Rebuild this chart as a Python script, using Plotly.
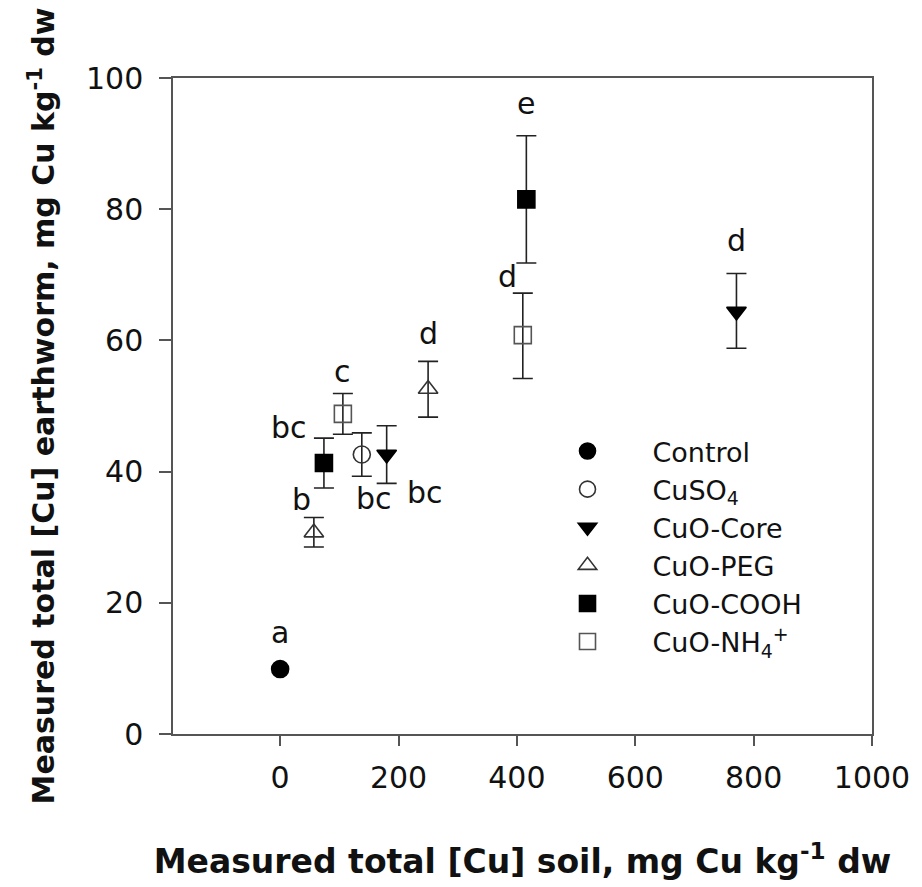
import plotly.graph_objects as go

# ---- data ----
treatments = ["Control", "CuSO<sub>4</sub>", "CuO-Core", "CuO-PEG", "CuO-COOH", "CuO-NH<sub>4</sub><sup>+</sup>"]
soil_cu = {
    "Control": [0],
    "CuSO<sub>4</sub>": [138],
    "CuO-Core": [180, 771],
    "CuO-PEG": [57, 250],
    "CuO-COOH": [74, 416],
    "CuO-NH<sub>4</sub><sup>+</sup>": [106, 410],
}
worm_cu = {
    "Control": [9.9],
    "CuSO<sub>4</sub>": [42.6],
    "CuO-Core": [42.6, 64.4],
    "CuO-PEG": [30.7, 52.6],
    "CuO-COOH": [41.3, 81.5],
    "CuO-NH<sub>4</sub><sup>+</sup>": [48.8, 60.8],
}
err_plus = {
    "Control": [0],
    "CuSO<sub>4</sub>": [3.3],
    "CuO-Core": [4.4, 5.8],
    "CuO-PEG": [2.3, 4.2],
    "CuO-COOH": [3.8, 9.7],
    "CuO-NH<sub>4</sub><sup>+</sup>": [3.1, 6.4],
}
err_minus = {
    "Control": [0],
    "CuSO<sub>4</sub>": [3.3],
    "CuO-Core": [4.4, 5.6],
    "CuO-PEG": [2.2, 4.3],
    "CuO-COOH": [3.8, 9.7],
    "CuO-NH<sub>4</sub><sup>+</sup>": [3.1, 6.6],
}
letters = {
    "Control": ["a"],
    "CuSO<sub>4</sub>": ["bc"],
    "CuO-Core": ["bc", "d"],
    "CuO-PEG": ["b", "d"],
    "CuO-COOH": ["bc", "e"],
    "CuO-NH<sub>4</sub><sup>+</sup>": ["c", "d"],
}
x_ticks = [0, 200, 400, 600, 800, 1000]
y_ticks = [0, 20, 40, 60, 80, 100]

# ---- styles ----
symbols = {
    "Control": ("circle", "black"),
    "CuSO<sub>4</sub>": ("circle-open", "#333"),
    "CuO-Core": ("triangle-down", "black"),
    "CuO-PEG": ("triangle-up-open", "#333"),
    "CuO-COOH": ("square", "black"),
    "CuO-NH<sub>4</sub><sup>+</sup>": ("square-open", "#555"),
}
# label placement: (anchor: 'top' of bar / 'bottom' of bar / 'center'), xshift, yshift px
label_place = {
    "Control": [("center", 0, 37)],
    "CuSO<sub>4</sub>": [("bottom", 12, -22)],
    "CuO-Core": [("bottom", 38, -9), ("top", 0, 33)],
    "CuO-PEG": [("top", -12, 18), ("top", 0, 28)],
    "CuO-COOH": [("top", -35, 11), ("top", 0, 32)],
    "CuO-NH<sub>4</sub><sup>+</sup>": [("top", 0, 22), ("top", -15, 17)],
}

FONT = "DejaVu Sans, Liberation Sans, Arial, sans-serif"
fig = go.Figure()
annotations = []
for t in treatments:
    sym, col = symbols[t]
    has_err = any(v > 0 for v in err_plus[t])
    fig.add_trace(go.Scatter(
        x=soil_cu[t], y=worm_cu[t], mode="markers", name=t,
        marker=dict(symbol=sym, size=17, color=col, line=dict(color=col, width=1.6)),
        error_y=dict(type="data", symmetric=False, array=err_plus[t], arrayminus=err_minus[t],
                     color="#222", thickness=1.6, width=10, visible=has_err),
    ))
    for i, lab in enumerate(letters[t]):
        where, xs, ys = label_place[t][i]
        y = worm_cu[t][i]
        if where == "top":
            y = y + err_plus[t][i]
        elif where == "bottom":
            y = y - err_minus[t][i]
        annotations.append(dict(x=soil_cu[t][i], y=y, text=lab, showarrow=False,
                                xshift=xs, yshift=ys, xanchor="center", yanchor="middle",
                                font=dict(size=30, color="#111", family=FONT)))

fig.update_layout(
    width=922, height=887,
    margin=dict(l=173, r=45, t=78, b=153),
    paper_bgcolor="white", plot_bgcolor="white",
    font=dict(family=FONT, color="#111"),
    annotations=annotations,
    showlegend=True,
    legend=dict(x=0.50, y=0.468, xanchor="left", yanchor="top",
                font=dict(size=27, family=FONT, color="#111"),
                bgcolor="rgba(0,0,0,0)", itemwidth=120, tracegroupgap=0),
    xaxis=dict(range=[-181, 1000], tickvals=x_ticks, ticks="outside", ticklen=10,
               tickwidth=1.5, tickcolor="#555", showline=True, linecolor="#555", linewidth=1.5,
               mirror=True, showgrid=False, zeroline=False, ticklabelstandoff=6,
               tickfont=dict(size=30, family=FONT, color="#111"),
               title=dict(text="<b>Measured total [Cu] soil, mg Cu kg<sup>-1</sup> dw</b>",
                          font=dict(size=33, family=FONT, color="#111"), standoff=56)),
    yaxis=dict(range=[0, 100], tickvals=y_ticks, ticks="outside", ticklen=12,
               tickwidth=1.5, tickcolor="#555", showline=True, linecolor="#555", linewidth=1.5,
               mirror=True, showgrid=False, zeroline=False, ticklabelstandoff=10,
               tickfont=dict(size=30, family=FONT, color="#111"),
               title=dict(text="<b>Measured total [Cu] earthworm, mg Cu kg<sup>-1</sup> dw</b>",
                          font=dict(size=30, family=FONT, color="#111"), standoff=22)),
)

fig.write_html("out.html")
